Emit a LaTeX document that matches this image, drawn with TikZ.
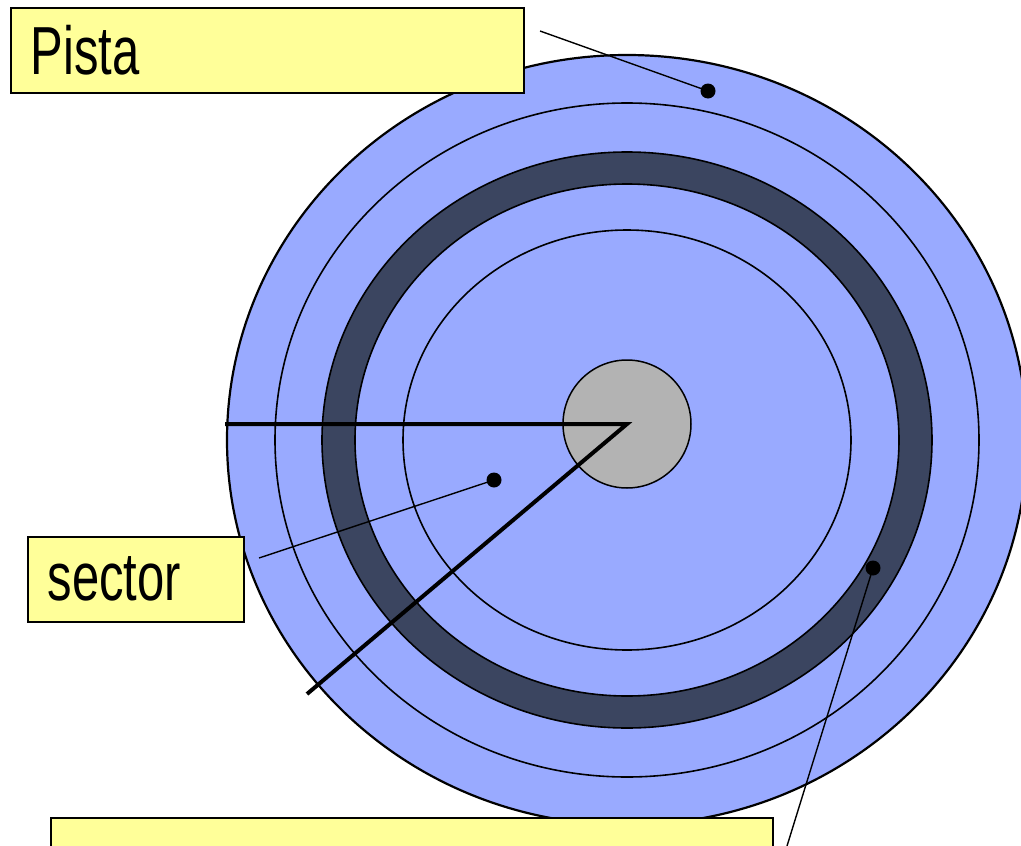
\documentclass[tikz,border=0pt]{standalone}
\usepackage{fontspec}
\setmainfont{Liberation Sans}[FakeStretch=0.72]
\definecolor{diskblue}{RGB}{153,170,255}
\definecolor{trackdark}{RGB}{59,69,96}
\definecolor{hubgray}{RGB}{179,179,179}
\definecolor{noteyellow}{RGB}{255,255,153}
\begin{document}
\begin{tikzpicture}[x=1pt,y=-1pt,
  ring/.style={draw=black,line width=1.6pt},
  radius line/.style={draw=black,line width=4pt},
  leader/.style={draw=black,line width=1.4pt},
  dot/.style={circle,fill=black,inner sep=0pt,minimum size=15pt},
  notebox/.style={draw=black,line width=1.5pt,fill=noteyellow,anchor=north west,
    inner xsep=20pt,inner ysep=0pt,align=left,
    font=\fontsize{68}{80}\selectfont}]
\useasboundingbox (0,0) rectangle (1021,846);
\clip (0,0) rectangle (1021,846);

% platter surface
\filldraw[fill=diskblue,draw=black,line width=2.2pt] (627,440) ellipse [x radius=400pt,y radius=385pt];
\draw[ring] (627,440) ellipse [x radius=352pt,y radius=337pt];

% highlighted track
\filldraw[ring,fill=trackdark] (627,440) ellipse [x radius=305pt,y radius=288pt];
\filldraw[ring,fill=diskblue] (627,440) ellipse [x radius=272pt,y radius=256pt];
\draw[ring] (627,440) ellipse [x radius=224pt,y radius=210pt];

% spindle hub
\node[circle,draw=black,line width=1.5pt,fill=hubgray,minimum size=128pt,inner sep=0pt] (hub) at (627,424) {};

% sector boundaries
\coordinate (axis) at (627,424);
\coordinate (edgeA) at (225,424);
\coordinate (edgeB) at (307,694);
\draw[radius line] (edgeA) -- (axis) -- (edgeB);

% label markers and leaders
\node[dot] (trackdot) at (708,91) {};
\node[dot] (sectordot) at (494,480) {};
\node[dot] (ringdot) at (873,568) {};
\coordinate (trackend) at (540,31);
\coordinate (sectorend) at (259,558);
\coordinate (ringend) at (787,846);
\draw[leader] (trackend) -- (trackdot.center);
\draw[leader] (sectorend) -- (sectordot.center);
\draw[leader] (ringend) -- (ringdot.center);

% labels
\node[notebox,minimum width=513pt,minimum height=85pt,text width=473pt] (pista) at (10,7) {Pista};
\node[notebox,minimum width=216pt,minimum height=85pt,text width=176pt] (sector) at (27,536) {sector};
\node[notebox,minimum width=722pt,minimum height=116pt,text width=682pt,align=center] (cilindro) at (50,817) {cilindro};
\end{tikzpicture}
\end{document}
